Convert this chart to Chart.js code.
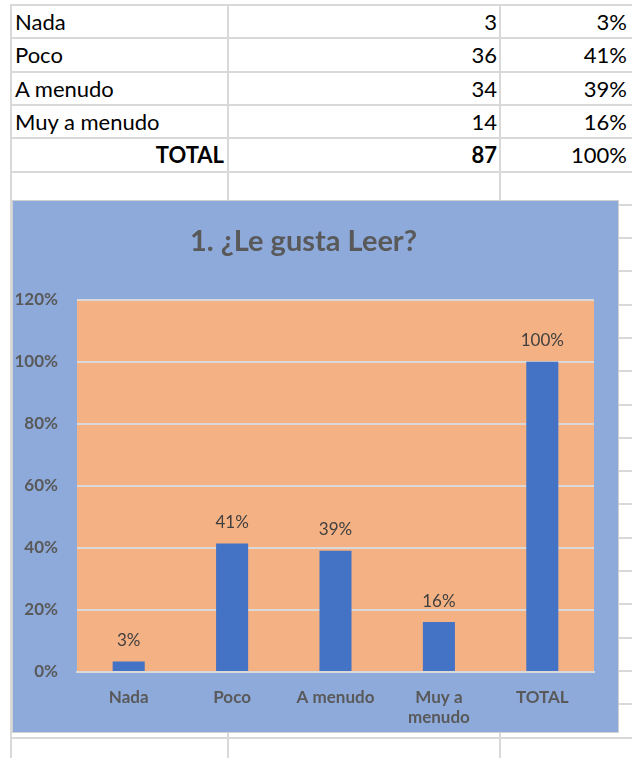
<!DOCTYPE html>
<html lang="es">
<head>
    <meta charset="UTF-8">
    <title>1. ¿Le gusta Leer?</title>
    <script src="https://cdn.jsdelivr.net/npm/chart.js"></script>
    <style>
        body {
            margin: 0;
            background: #ffffff;
            font-family: Lato, 'Open Sans', sans-serif;
            width: 632px;
            height: 758px;
            overflow: hidden;
            position: relative;
        }
        .hline, .vline {
            position: absolute;
            background: #d9d9d9;
        }
        .hline { left: 10px; right: 0; height: 2px; }
        .vline { top: 4px; bottom: 0; width: 2px; }
        .cell {
            position: absolute;
            height: 33px;
            line-height: 33px;
            font-size: 22px;
            color: #000;
            white-space: nowrap;
        }
        .chart-box {
            position: absolute;
            left: 12px;
            top: 200px;
            width: 607px;
            height: 533px;
            background: #8eaadb;
            border: 1px solid #d0d0d0;
            box-sizing: border-box;
        }
    </style>
</head>
<body>

    <div id="grid"></div>
    <div id="table"></div>

    <div class="chart-box">
        <canvas id="readChart" width="605" height="531"></canvas>
    </div>

    <script>
        // datos
        const categories = ['Nada', 'Poco', 'A menudo', 'Muy a menudo', 'TOTAL'];
        const axisLabels = ['Nada', 'Poco', 'A menudo', ['Muy a', 'menudo'], 'TOTAL'];
        const counts = [3, 36, 34, 14, 87];
        const shares = [0.034, 0.414, 0.391, 0.161, 1.0];
        const yTicks = [0, 0.2, 0.4, 0.6, 0.8, 1.0, 1.2];

        const rowTop = 5, rowH = 33.3;

        // spreadsheet grid
        const grid = document.getElementById('grid');
        for (let i = 0; i < 24; i++) {
            const l = document.createElement('div');
            l.className = 'hline';
            l.style.top = Math.round(rowTop + i * rowH - 1) + 'px';
            grid.appendChild(l);
        }
        [10, 227, 499].forEach(x => {
            const v = document.createElement('div');
            v.className = 'vline';
            v.style.left = x + 'px';
            grid.appendChild(v);
        });

        // table rows
        const table = document.getElementById('table');
        function addCell(text, left, width, top, align, bold) {
            const c = document.createElement('div');
            c.className = 'cell';
            c.textContent = text;
            c.style.left = left + 'px';
            c.style.width = width + 'px';
            c.style.top = Math.round(top) + 'px';
            c.style.textAlign = align;
            if (bold) c.style.fontWeight = 'bold';
            table.appendChild(c);
        }
        categories.forEach((cat, i) => {
            const top = rowTop + i * rowH;
            const isTotal = cat === 'TOTAL';
            if (isTotal) addCell(cat, 12, 212, top, 'right', true);
            else addCell(cat, 15, 210, top, 'left', false);
            addCell(String(counts[i]), 230, 267, top, 'right', isTotal);
            addCell(Math.round(shares[i] * 100) + '%', 502, 125, top, 'right', false);
        });

        const pct = v => Math.round(v * 100) + '%';

        const plotBg = {
            id: 'plotBg',
            beforeDraw(chart) {
                const { ctx, chartArea: a } = chart;
                ctx.save();
                ctx.fillStyle = '#f4b183';
                ctx.fillRect(a.left, a.top, a.right - a.left, a.bottom - a.top);
                ctx.restore();
            }
        };

        const barLabels = {
            id: 'barLabels',
            afterDatasetsDraw(chart) {
                const { ctx } = chart;
                const meta = chart.getDatasetMeta(0);
                ctx.save();
                ctx.font = '17px Lato, sans-serif';
                ctx.fillStyle = '#404040';
                ctx.textAlign = 'center';
                ctx.textBaseline = 'middle';
                meta.data.forEach((bar, i) => {
                    ctx.fillText(pct(shares[i]), bar.x, bar.y - 21);
                });
                ctx.restore();
            }
        };

        const axisFont = { family: 'Lato, sans-serif', size: 17, weight: 'bold' };

        new Chart(document.getElementById('readChart'), {
            type: 'bar',
            data: {
                labels: axisLabels,
                datasets: [{
                    data: shares,
                    backgroundColor: '#4472c4',
                    barPercentage: 0.62,
                    categoryPercentage: 0.5
                }]
            },
            options: {
                responsive: false,
                animation: false,
                layout: { padding: { left: 0, right: 24, bottom: 0 } },
                plugins: {
                    legend: { display: false },
                    tooltip: { enabled: false },
                    title: {
                        display: true,
                        text: '1. ¿Le gusta Leer?',
                        color: '#595959',
                        font: { family: 'Lato, sans-serif', size: 29, weight: 'bold' },
                        padding: { top: 23, bottom: 41 }
                    }
                },
                scales: {
                    x: {
                        afterFit(scale) { scale.height = 60; },
                        grid: { display: false, drawTicks: false },
                        border: { color: '#d9d9d9', width: 2 },
                        ticks: {
                            color: '#595959',
                            font: axisFont,
                            padding: 15
                        }
                    },
                    y: {
                        min: 0,
                        max: 1.2,
                        afterFit(scale) { scale.width = 64; },
                        afterBuildTicks(scale) { scale.ticks = yTicks.map(v => ({ value: v })); },
                        grid: { color: '#d9d9d9', lineWidth: 2, drawTicks: false },
                        border: { display: false },
                        ticks: {
                            color: '#595959',
                            font: axisFont,
                            padding: 19,
                            callback: v => pct(v)
                        }
                    }
                }
            },
            plugins: [plotBg, barLabels]
        });
    </script>
</body>
</html>
